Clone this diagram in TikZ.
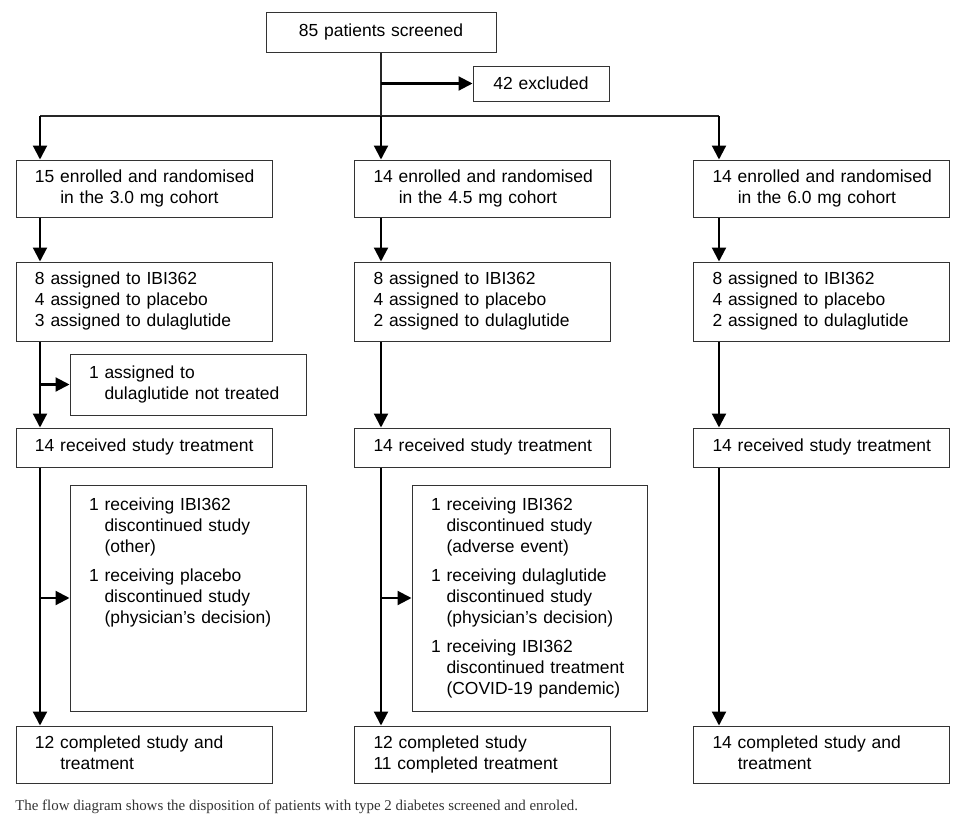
\documentclass[tikz,border=0pt]{standalone}
\usepackage{fontspec}
\setmainfont{Liberation Sans}
\newfontfamily\capfont{Liberation Serif}
\usetikzlibrary{arrows.meta}
\newcommand\lines[1]{\begin{tabular}{@{}l@{}}#1\end{tabular}}
\begin{document}
\begin{tikzpicture}[x=0.75pt,y=-0.75pt,
  box/.style={draw=black!80, line width=0.75pt, inner xsep=14.25pt, inner ysep=0pt,
    align=left, font=\fontsize{13.1}{15.75}\selectfont, anchor=center},
  cbox/.style={box, align=center},
  colbox/.style={box, text width=163.5pt},
  sidebox/.style={box, text width=148.5pt},
  thinline/.style={line width=0.9pt, draw=black!85},
  arr/.style={line width=1.6pt, -{Triangle[length=10.5pt,width=10.5pt]}}]
\useasboundingbox (0,0) rectangle (972,818);

% top
\node[cbox, text width=144pt, minimum height=30pt] (top) at (381,32) {85 patients screened};
\node[cbox, text width=73.5pt, minimum height=26.25pt] (excl) at (541,83.5) {42 excluded};

% row 1
\node[colbox, minimum height=42.75pt] (r1a) at (144,188.5) {\lines{15 enrolled and randomised\\\phantom{15}\ in the 3.0 mg cohort}};
\node[colbox, minimum height=42.75pt] (r1b) at (482.5,188.5) {\lines{14 enrolled and randomised\\\phantom{14}\ in the 4.5 mg cohort}};
\node[colbox, minimum height=42.75pt] (r1c) at (821.5,188.5) {\lines{14 enrolled and randomised\\\phantom{14}\ in the 6.0 mg cohort}};

% row 2
\node[colbox, minimum height=59.25pt] (r2a) at (144,301.5) {\lines{8 assigned to IBI362\\4 assigned to placebo\\3 assigned to dulaglutide}};
\node[colbox, minimum height=59.25pt] (r2b) at (482.5,301.5) {\lines{8 assigned to IBI362\\4 assigned to placebo\\2 assigned to dulaglutide}};
\node[colbox, minimum height=59.25pt] (r2c) at (821.5,301.5) {\lines{8 assigned to IBI362\\4 assigned to placebo\\2 assigned to dulaglutide}};

% side box col 1
\node[sidebox, minimum height=45.75pt] (s1a) at (188,384.5) {\lines{1 assigned to\\\phantom{1}\ dulaglutide not treated}};

% row 3
\node[colbox, minimum height=29.25pt] (r3a) at (144,447.5) {\lines{14 received study treatment}};
\node[colbox, minimum height=29.25pt] (r3b) at (482.5,447.5) {\lines{14 received study treatment}};
\node[colbox, minimum height=29.25pt] (r3c) at (821.5,447.5) {\lines{14 received study treatment}};

% discontinuation boxes
\node[sidebox, minimum height=169.5pt] (s2a) at (188,598) {\lines{1 receiving IBI362\\\phantom{1}\ discontinued study\\\phantom{1}\ (other)\\[6pt]1 receiving placebo\\\phantom{1}\ discontinued study\\\phantom{1}\ (physician’s decision)\\[6pt]\mbox{}\\\mbox{}\\\mbox{}}};
\node[sidebox, text width=147.75pt, minimum height=169.5pt] (s2b) at (529.5,598) {\lines{1 receiving IBI362\\\phantom{1}\ discontinued study\\\phantom{1}\ (adverse event)\\[6pt]1 receiving dulaglutide\\\phantom{1}\ discontinued study\\\phantom{1}\ (physician’s decision)\\[6pt]1 receiving IBI362\\\phantom{1}\ discontinued treatment\\\phantom{1}\ (COVID-19 pandemic)}};

% row 4
\node[colbox, minimum height=42.75pt] (r4a) at (144,754.5) {\lines{12 completed study and\\\phantom{12}\ treatment}};
\node[colbox, minimum height=42.75pt] (r4b) at (482.5,754.5) {\lines{12 completed study\\11 completed treatment}};
\node[colbox, minimum height=42.75pt] (r4c) at (821.5,754.5) {\lines{14 completed study and\\\phantom{14}\ treatment}};

% caption
\node[anchor=west, inner sep=0pt, text=black!80, font=\capfont\fontsize{11.2}{13}\selectfont] (cap) at (15,807) {The flow diagram shows the disposition of patients with type 2 diabetes screened and enroled.};

% connectors
\coordinate (x1) at (40,116);
\coordinate (x2) at (381,116);
\coordinate (x3) at (719,116);
\draw[thinline] (top.south) -- (x2);
\draw[arr] (top.south |- excl.west) -- (excl.west);
\draw[thinline] (x1) -- (x3);
\draw[arr] (x1) -- (x1 |- r1a.north);
\draw[arr] (x2) -- (x2 |- r1b.north);
\draw[arr] (x3) -- (x3 |- r1c.north);

\draw[arr] (r1a.south -| x1) -- (r2a.north -| x1);
\draw[arr] (r1b.south -| x2) -- (r2b.north -| x2);
\draw[arr] (r1c.south -| x3) -- (r2c.north -| x3);

\draw[arr] (r2a.south -| x1) -- (r3a.north -| x1);
\draw[arr] (r2b.south -| x2) -- (r3b.north -| x2);
\draw[arr] (r2c.south -| x3) -- (r3c.north -| x3);
\draw[arr] (s1a.west -| x1) -- (s1a.west);

\draw[arr] (r3a.south -| x1) -- (r4a.north -| x1);
\draw[arr] (r3b.south -| x2) -- (r4b.north -| x2);
\draw[arr] (r3c.south -| x3) -- (r4c.north -| x3);
\draw[arr] (s2a.west -| x1) -- (s2a.west);
\draw[arr] (s2b.west -| x2) -- (s2b.west);
\end{tikzpicture}
\end{document}
